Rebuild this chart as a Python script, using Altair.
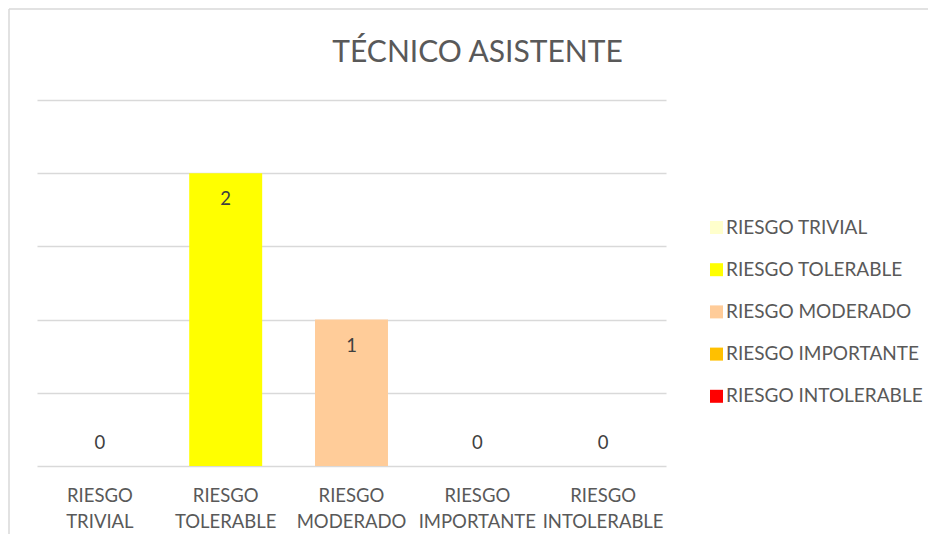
import altair as alt
import pandas as pd

categories = ["RIESGO TRIVIAL", "RIESGO TOLERABLE", "RIESGO MODERADO", "RIESGO IMPORTANTE", "RIESGO INTOLERABLE"]
values = [0, 2, 1, 0, 0]
colors = ["#FFFFCC", "#FFFF00", "#FFCC99", "#FFC000", "#FF0000"]
grid_values = [0, 0.5, 1, 1.5, 2, 2.5]

df = pd.DataFrame({"cat": categories, "val": values})
FONT = "Lato"
TXT = "#595959"

x_enc = alt.X("cat:N", sort=categories, title=None,
              scale=alt.Scale(paddingInner=0.42, paddingOuter=0.21),
              axis=alt.Axis(labelExpr="split(datum.label, ' ')", labelAngle=0,
                            labelFontSize=18.5, labelFont=FONT, labelColor=TXT,
                            labelLineHeight=26, labelPadding=20, domain=False,
                            ticks=False, grid=False))
y_enc = alt.Y("val:Q", title=None, scale=alt.Scale(domain=[0, 2.5], nice=False),
              axis=alt.Axis(values=grid_values, labels=False, ticks=False, domain=False,
                            grid=True, gridColor="#D9D9D9", gridWidth=1.3))

base = alt.Chart(df)

bars = base.mark_bar().encode(
    x=x_enc, y=y_enc,
    color=alt.Color("cat:N", sort=categories,
                    scale=alt.Scale(domain=categories, range=colors),
                    legend=alt.Legend(title=None, orient="none", legendX=670, legendY=118,
                                      symbolType="square", symbolSize=169, symbolStrokeWidth=0,
                                      labelFontSize=19, labelFont=FONT, labelColor=TXT,
                                      labelLimit=300, rowPadding=22.2, labelOffset=0, padding=0)),
)

lab_nz = base.transform_filter("datum.val > 0").mark_text(
    font=FONT, fontSize=18.5, color="#404040", baseline="middle", dy=26
).encode(x=alt.X("cat:N", sort=categories), y="val:Q", text="val:Q")

lab_z = base.transform_filter("datum.val == 0").mark_text(
    font=FONT, fontSize=18.5, color="#404040", baseline="middle", dy=-23
).encode(x=alt.X("cat:N", sort=categories), y="val:Q", text="val:Q")

one = pd.DataFrame({"f": [0]})
frame_top = alt.Chart(one).mark_rule(color="#D9D9D9", strokeWidth=1.5).encode(
    x=alt.value(-28), x2=alt.value(900), y=alt.value(-91))
frame_left = alt.Chart(one).mark_rule(color="#D9D9D9", strokeWidth=1.5).encode(
    x=alt.value(-28), y=alt.value(-91), y2=alt.value(500))

chart = alt.layer(frame_top, frame_left, bars, lab_nz, lab_z).properties(
    width=629, height=366,
    background="white",
    title=alt.TitleParams(text="TÉCNICO ASISTENTE", fontSize=30, font=FONT,
                          fontWeight="normal", color=TXT, anchor="middle",
                          frame="group", dx=126, baseline="alphabetic", offset=-84),
    autosize=alt.AutoSizeParams(type="none"),
    padding={"left": 29, "top": 92, "right": 262, "bottom": 68},
).configure_view(stroke=None)

chart.save("out.html", embed_options={"renderer": "svg", "actions": False})
